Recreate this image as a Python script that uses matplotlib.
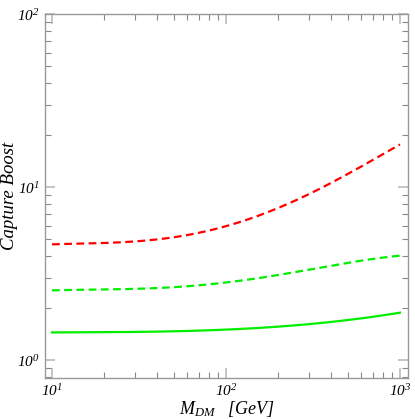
import numpy as np
import matplotlib
matplotlib.use("Agg")
from matplotlib import pyplot as plt
from matplotlib.ticker import LogLocator, FixedLocator, NullFormatter

plt.rcParams['mathtext.fontset'] = 'custom'
plt.rcParams['mathtext.rm'] = 'Liberation Serif:italic'
plt.rcParams['mathtext.it'] = 'Liberation Serif:italic'
plt.rcParams['font.family'] = ['Liberation Serif']

# dark matter mass in GeV
mass = [10, 20.2, 34.2, 58.1, 100, 190, 372, 631, 1000]

# capture boost curves
red_dashed = [4.69, 4.72, 4.96, 5.30, 5.92, 7.39, 10.3, 13.5, 17.7]
green_dashed = [2.54, 2.55, 2.61, 2.69, 2.80, 3.08, 3.48, 3.80, 4.02]
green_solid = [1.45, 1.45, 1.46, 1.48, 1.51, 1.55, 1.65, 1.77, 1.88]

x_ticks = [10, 100, 1000]
x_labels = [r'$10^{1}$', r'$10^{2}$', r'$10^{3}$']
y_ticks = [1, 10, 100]
y_labels = [r'$10^{0}$', r'$10^{1}$', r'$10^{2}$']

fig = plt.figure(figsize=(4.15, 4.19), dpi=100)
ax = fig.add_axes([45 / 415, 1 - 378 / 419, 363 / 415, 364 / 419])

# smooth curve through the read points (log-log polynomial, just for drawing)
xs = np.logspace(1, 3, 200)
def smooth(vals):
    c = np.polyfit(np.log10(mass), np.log10(vals), 4)
    return 10 ** np.polyval(c, np.log10(xs))

ax.plot(xs, smooth(red_dashed), color='#ff0000', lw=1.6, ls=(0, (3.5, 2)))
ax.plot(xs, smooth(green_dashed), color='#00ee00', lw=1.6, ls=(0, (3.5, 2)))
ax.plot(xs, smooth(green_solid), color='#00ee00', lw=1.6)

ax.set_xscale('log')
ax.set_yscale('log')
ax.set_xlim(9.12, 1112)
ax.set_ylim(0.79, 100.4)

for axis, ticks in [(ax.xaxis, x_ticks), (ax.yaxis, y_ticks)]:
    axis.set_major_locator(FixedLocator(ticks))
    axis.set_minor_locator(LogLocator(base=10, subs=np.arange(2, 10)))
    axis.set_minor_formatter(NullFormatter())
ax.set_xticklabels(x_labels)
ax.set_yticklabels(y_labels)

ax.tick_params(which='major', direction='in', length=7, width=1.3, color='#c0c0c0',
               top=True, right=True, labelsize=11, pad=4)
ax.tick_params(which='minor', direction='in', length=4, width=0.8, color='#888888',
               top=True, right=True)
for s in ax.spines.values():
    s.set_color('#999999')
    s.set_linewidth(1.0)

ax.set_xlabel(r'$M_{DM}$   $[GeV]$', fontsize=13)
ax.xaxis.set_label_coords(0.5, -0.058)
ax.set_ylabel('Capture Boost', fontsize=13.5, style='italic')
ax.yaxis.set_label_coords(-0.075, 0.5)

fig.savefig('out.png', dpi=100)
